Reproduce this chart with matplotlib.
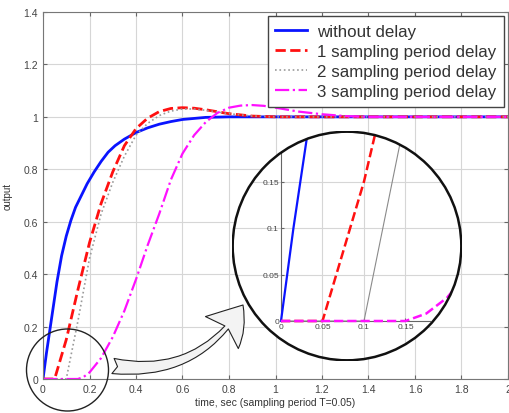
import matplotlib
matplotlib.use("Agg")
import matplotlib.pyplot as plt
from matplotlib.patches import Circle, FancyArrowPatch
from matplotlib.transforms import IdentityTransform
from matplotlib.ticker import FormatStrFormatter

plt.rcParams['font.family'] = ['Liberation Sans', 'DejaVu Sans']

# step responses
t_nodelay = [0, 0.015, 0.03, 0.045, 0.06, 0.08, 0.1, 0.12, 0.14, 0.165, 0.19, 0.22, 0.25, 0.28,
             0.31, 0.35, 0.4, 0.45, 0.5, 0.55, 0.6, 0.7, 0.8, 2.0]
y_nodelay = [0, 0.1, 0.19, 0.28, 0.37, 0.47, 0.545, 0.605, 0.655, 0.70, 0.745, 0.79, 0.83, 0.865,
             0.89, 0.915, 0.94, 0.958, 0.972, 0.982, 0.99, 0.998, 1.0, 1.0]

t_delay1 = [0, 0.05, 0.1, 0.15, 0.2, 0.25, 0.3, 0.35, 0.4, 0.45, 0.5, 0.55, 0.6, 0.65, 0.7, 0.8, 0.9, 1.0, 2.0]
y_delay1 = [0, 0, 0.15, 0.34, 0.52, 0.67, 0.79, 0.89, 0.955, 0.995, 1.02, 1.032, 1.035, 1.033, 1.027, 1.012, 1.003, 1.0, 1.0]

t_delay2 = [0, 0.1, 0.15, 0.2, 0.25, 0.3, 0.35, 0.4, 0.45, 0.5, 0.55, 0.6, 0.65, 0.7, 0.8, 0.9, 1.0, 2.0]
y_delay2 = [0, 0, 0.22, 0.46, 0.63, 0.75, 0.85, 0.93, 0.975, 1.005, 1.022, 1.03, 1.03, 1.025, 1.012, 1.003, 1.0, 1.0]

t_delay3 = [0, 0.15, 0.175, 0.2, 0.25, 0.3, 0.35, 0.4, 0.45, 0.5, 0.55, 0.6, 0.65, 0.7, 0.75,
            0.8, 0.85, 0.9, 0.95, 1.0, 1.1, 1.2, 1.3, 1.4, 2.0]
y_delay3 = [0, 0, 0.008, 0.025, 0.08, 0.16, 0.26, 0.38, 0.51, 0.63, 0.76, 0.86, 0.93, 0.98, 1.015,
            1.035, 1.043, 1.045, 1.042, 1.035, 1.02, 1.01, 1.003, 1.0, 1.0]

labels = ['without delay', '1 sampling period delay', '2 sampling period delay', '3 sampling period delay']
x_ticks = [0, 0.2, 0.4, 0.6, 0.8, 1.0, 1.2, 1.4, 1.6, 1.8, 2.0]
y_ticks = [0, 0.2, 0.4, 0.6, 0.8, 1.0, 1.2, 1.4]
zoom_ticks = [0, 0.05, 0.1, 0.15]

styles = [dict(color='#0a14ff', ls='-', lw=2.0),
          dict(color='#ff1010', ls='--', lw=2.0),
          dict(color='#9a9a9a', ls=':', lw=1.2),
          dict(color='#ff10ff', ls='-.', lw=1.6)]
series = [(t_nodelay, y_nodelay), (t_delay1, y_delay1), (t_delay2, y_delay2), (t_delay3, y_delay3)]

W, H = 510, 414
fig = plt.figure(figsize=(5.1, 4.14), dpi=100)
ax = fig.add_axes([43 / W, (H - 380) / H, 465 / W, 367 / H])

for (t, y), st, lab in zip(series, styles, labels):
    ax.plot(t, y, label=lab, **st)

ax.set_xlim(0, 2)
ax.set_ylim(0, 1.4)
ax.set_xticks(x_ticks)
ax.set_yticks(y_ticks)
ax.xaxis.set_major_formatter(FormatStrFormatter('%g'))
ax.yaxis.set_major_formatter(FormatStrFormatter('%g'))
ax.tick_params(direction='in', top=True, right=True, labelsize=7.5, labelcolor='#444444',
               color='#666666', length=3)
for sp in ax.spines.values():
    sp.set_color('#777777')
ax.grid(True, color='#d6d6d6', lw=0.8)
ax.set_xlabel('time, sec (sampling period T=0.05)', fontsize=7.5, color='#333333', labelpad=2)
ax.set_ylabel('output', fontsize=7, color='#333333', labelpad=8)

leg = ax.legend(loc='upper right', fontsize=12.2, fancybox=False, framealpha=1,
                edgecolor='#444444', borderaxespad=0.25, handlelength=1.85,
                labelspacing=0.3, borderpad=0.45, handletextpad=0.6)
leg.get_frame().set_linewidth(1.0)
for txt in leg.get_texts():
    txt.set_color('#333333')

# small circle around the origin
small = Circle((67.5, H - 371), 41, transform=IdentityTransform(), fill=False,
               edgecolor='#222222', lw=1.0)
fig.add_artist(small)

# curved arrow to the magnified view
arrow = FancyArrowPatch((113, H - 367), (243, H - 306), transform=IdentityTransform(),
                        connectionstyle='arc3,rad=0.33',
                        arrowstyle='fancy,head_length=2.5,head_width=3.3,tail_width=1.1',
                        mutation_scale=10, shrinkA=0, shrinkB=0,
                        facecolor='#f3f3f3', edgecolor='#222222', lw=0.8)
fig.add_artist(arrow)

# magnified view clipped to a circle
cx0, cy0 = 281, 322          # pixel of (0, 0) in the zoomed view
sx, sy = 830.0, 930.0        # pixels per data unit
left, right, top, bottom = 232, 462, 132, 362
axin = fig.add_axes([left / W, (H - bottom) / H, (right - left) / W, (bottom - top) / H])
axin.set_xlim((left - cx0) / sx, (right - cx0) / sx)
axin.set_ylim((cy0 - bottom) / sy, (cy0 - top) / sy)
axin.patch.set_visible(False)

disk = Circle((0.5, 0.5), 0.5, transform=axin.transAxes, facecolor='white', edgecolor='none', zorder=0)
axin.add_patch(disk)
ring = Circle((0.5, 0.5), 0.497, transform=axin.transAxes, fill=False, edgecolor='#111111',
              lw=1.8, zorder=10)
axin.add_patch(ring)

for v in zoom_ticks[1:]:
    g1 = axin.axvline(v, color='#d6d6d6', lw=0.8, zorder=1)
    g2 = axin.axhline(v, color='#d6d6d6', lw=0.8, zorder=1)
    g1.set_clip_path(disk)
    g2.set_clip_path(disk)

zoom_styles = [dict(color='#0a14ff', ls='-', lw=1.6),
               dict(color='#ff1010', ls='--', lw=1.8),
               dict(color='#8a8a8a', ls='-', lw=0.8),
               dict(color='#ff10ff', ls='--', lw=1.8)]
for (t, y), st in zip(series, zoom_styles):
    ln, = axin.plot(t, y, zorder=3, **st)
    ln.set_clip_path(disk)

axin.spines['top'].set_visible(False)
axin.spines['right'].set_visible(False)
axin.spines['left'].set_position(('data', 0))
axin.spines['bottom'].set_position(('data', 0))
axin.spines['left'].set_bounds(0, 0.21)
axin.spines['bottom'].set_bounds(0, 0.18)
for side in ('left', 'bottom'):
    axin.spines[side].set_color('#666666')
    axin.spines[side].set_clip_path(disk)
axin.set_xticks(zoom_ticks)
axin.set_yticks(zoom_ticks)
axin.xaxis.set_major_formatter(FormatStrFormatter('%g'))
axin.yaxis.set_major_formatter(FormatStrFormatter('%g'))
axin.tick_params(direction='in', labelsize=6, labelcolor='#444444', color='#666666',
                 length=2, pad=1.5)

fig.savefig('out.png', dpi=100)
